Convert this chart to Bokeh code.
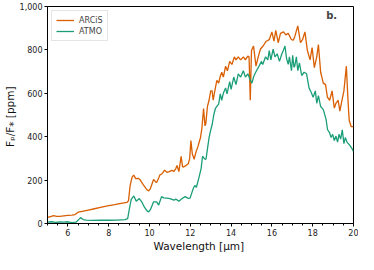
from bokeh.plotting import figure
from bokeh.models import Range1d, SingleIntervalTicker, NumeralTickFormatter, Label, Legend, LegendItem
from bokeh.embed import file_html
from bokeh.resources import INLINE

series_names = ["ARCiS", "ATMO"]

arcis_wl = [5.00, 5.15, 5.30, 5.45, 5.60, 5.80, 6.00, 6.20, 6.35, 6.50, 6.70, 7.00, 7.30, 7.60, 8.00,
            8.30, 8.60, 8.90, 8.97, 9.05, 9.15, 9.23, 9.32, 9.45, 9.55, 9.70, 9.85, 9.96, 10.04, 10.20,
            10.30, 10.35, 10.45, 10.51, 10.60, 10.74, 10.85, 10.97, 11.10, 11.20, 11.29, 11.35, 11.44,
            11.55, 11.62, 11.67, 11.80, 11.90, 11.97, 12.03, 12.10, 12.19, 12.28, 12.37, 12.45, 12.50,
            12.57, 12.65, 12.72, 12.76, 12.84, 12.92, 13.00, 13.07, 13.12, 13.20, 13.30, 13.39, 13.46,
            13.54, 13.62, 13.73, 13.82, 13.93, 14.04, 14.16, 14.24, 14.35, 14.47, 14.60, 14.70, 14.82,
            14.88, 14.94, 15.00, 15.10, 15.22, 15.33, 15.44, 15.57, 15.72, 15.87, 16.00, 16.10, 16.19,
            16.31, 16.42, 16.57, 16.68, 16.80, 16.96, 17.05, 17.12, 17.27, 17.40, 17.50, 17.62, 17.74,
            17.87, 17.97, 18.08, 18.20, 18.28, 18.39, 18.52, 18.63, 18.72, 18.83, 18.95, 19.06, 19.14,
            19.25, 19.33, 19.42, 19.53, 19.65, 19.73, 19.79, 19.89, 20.00]
arcis_ppm = [28, 32, 36, 33, 33, 35, 37, 39, 41, 52, 56, 62, 68, 74, 82,
             87, 93, 97, 105, 175, 215, 223, 207, 208, 200, 178, 158, 150, 160, 203,
             192, 189, 210, 224, 228, 246, 236, 239, 245, 240, 253, 267, 239,
             310, 262, 260, 268, 275, 300, 382, 320, 296, 330, 353, 380, 396,
             440, 530, 450, 460, 539, 568, 611, 611, 568, 610, 660, 647, 675,
             697, 675, 725, 704, 747, 733, 768, 754, 768, 754, 768, 754, 771,
             768, 568, 797, 818, 725, 768, 804, 818, 840, 847, 883, 840, 890,
             833, 876, 883, 869, 876, 847, 845, 861, 911, 833, 847, 883, 797,
             754, 811, 718, 768, 825, 697, 647, 640, 582, 568, 611, 532, 554,
             568, 518, 561, 611, 725, 568, 475, 446, 446]

atmo_wl = [5.00, 5.20, 5.40, 5.60, 5.80, 6.00, 6.20, 6.40, 6.55, 6.62, 6.75, 6.90, 7.20, 7.60, 8.00,
           8.40, 8.80, 8.93, 9.00, 9.10, 9.23, 9.35, 9.50, 9.62, 9.75, 9.88, 9.96, 10.05, 10.20, 10.35,
           10.45, 10.59, 10.70, 10.85, 11.00, 11.20, 11.30, 11.44, 11.60, 11.75, 11.90, 11.99, 12.07,
           12.14, 12.22, 12.30, 12.42, 12.53, 12.60, 12.70, 12.77, 12.85, 12.92, 13.00, 13.07, 13.15,
           13.23, 13.30, 13.39, 13.47, 13.54, 13.62, 13.73, 13.80, 13.93, 14.00, 14.13, 14.24, 14.35,
           14.47, 14.60, 14.70, 14.82, 14.94, 15.02, 15.10, 15.17, 15.25, 15.33, 15.49, 15.55, 15.69,
           15.80, 15.87, 15.95, 16.06, 16.15, 16.26, 16.37, 16.49, 16.57, 16.64, 16.72, 16.80, 16.86,
           16.96, 17.02, 17.08, 17.12, 17.20, 17.27, 17.35, 17.46, 17.58, 17.70, 17.82, 17.93, 18.02,
           18.13, 18.20, 18.28, 18.39, 18.52, 18.65, 18.73, 18.83, 18.90, 18.98, 19.06, 19.14, 19.22,
           19.29, 19.37, 19.45, 19.53, 19.60, 19.68, 19.81, 19.92, 20.00]
atmo_ppm = [6, 8, 5, 7, 6, 8, 4, 6, 20, 27, 18, 16, 14, 15, 15,
            16, 18, 22, 60, 110, 127, 103, 115, 100, 75, 58, 53, 65, 100, 100,
            85, 124, 118, 117, 115, 108, 112, 103, 115, 124, 116, 117, 140,
            160, 175, 167, 210, 253, 310, 298, 296, 350, 396, 430, 455, 500,
            530, 540, 550, 597, 568, 600, 625, 597, 654, 618, 675, 640, 690,
            675, 704, 675, 690, 661, 647, 675, 690, 705, 718, 747, 733, 768,
            754, 797, 754, 804, 768, 782, 747, 782, 800, 818, 760, 733, 768,
            704, 775, 720, 725, 768, 704, 740, 682, 697, 690, 625, 604, 582,
            611, 554, 589, 539, 525, 482, 432, 418, 396, 411, 382, 403, 375,
            411, 389, 432, 368, 396, 375, 361, 346, 332]

x_ticks_interval = 2
y_ticks_interval = 200

ORANGE = "#d95f02"
GREEN = "#1b9e77"

p = figure(width=358, height=254, output_backend="svg", toolbar_location=None,
           x_range=Range1d(5, 20), y_range=Range1d(0, 1000),
           min_border_left=40, min_border_right=5, min_border_top=6, min_border_bottom=26)

r1 = p.line(arcis_wl, arcis_ppm, line_color=ORANGE, line_width=1.3)
r2 = p.line(atmo_wl, atmo_ppm, line_color=GREEN, line_width=1.3)

p.xgrid.visible = False
p.ygrid.visible = False
p.outline_line_color = "black"
p.outline_line_width = 1
p.background_fill_color = "white"
p.border_fill_color = "white"

p.xaxis.ticker = SingleIntervalTicker(interval=x_ticks_interval, num_minor_ticks=4)
p.yaxis.ticker = SingleIntervalTicker(interval=y_ticks_interval, num_minor_ticks=0)
p.yaxis.formatter = NumeralTickFormatter(format="0,0")

for ax in (p.xaxis[0], p.yaxis[0]):
    ax.axis_line_color = "black"
    ax.major_tick_line_color = "black"
    ax.minor_tick_line_color = "black"
    ax.major_tick_in = 0
    ax.major_tick_out = 3
    ax.minor_tick_in = 0
    ax.minor_tick_out = 2
    ax.major_label_text_font = "DejaVu Sans"
    ax.major_label_text_font_size = "8px"
    ax.major_label_text_color = "#222222"
    ax.major_label_standoff = 2
    ax.axis_label_text_font = "DejaVu Sans"
    ax.axis_label_text_font_size = "10.5px"
    ax.axis_label_text_font_style = "normal"
    ax.axis_label_text_color = "#111111"
    ax.axis_label_standoff = 1

p.yaxis.minor_tick_line_color = None
p.xaxis.axis_label = "Wavelength  [μm]"
p.yaxis.axis_label = "Fₚ/F⁎  [ppm]"

legend = Legend(items=[LegendItem(label=series_names[0], renderers=[r1]),
                       LegendItem(label=series_names[1], renderers=[r2])],
                location="top_left")
legend.label_text_font = "DejaVu Sans"
legend.label_text_font_size = "8px"
legend.label_height = 10
legend.glyph_height = 10
legend.glyph_width = 18
legend.label_standoff = 5
legend.spacing = 1
legend.padding = 4
legend.margin = 4
legend.border_line_color = "#cccccc"
legend.background_fill_alpha = 0.85
p.add_layout(legend)

p.add_layout(Label(x=18.66, y=957, text="b.", text_font="DejaVu Sans", text_font_size="10px",
                   text_font_style="bold", text_baseline="middle", text_align="left"))

open("out.html", "w").write(file_html(p, INLINE))
